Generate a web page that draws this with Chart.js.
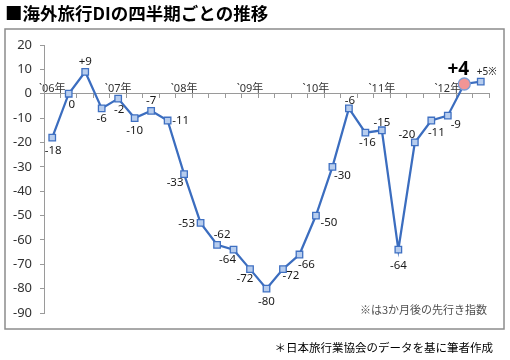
<!DOCTYPE html>
<html><head><meta charset="utf-8">
<script src="https://cdn.jsdelivr.net/npm/chart.js@4"></script>
<style>html,body{margin:0;padding:0;background:#fff;}canvas{display:block;}</style>
</head><body>
<canvas id="c" width="510" height="360"></canvas>
<script>
// ---- data ----
const quarterLabels = ['`06年','','','','`07年','','','','`08年','','','','`09年','','','','`10年','','','','`11年','','','','`12年','',''];
const diValues = [-18,0,9,-6,-2,-10,-7,-11,-33,-53,-62,-64,-72,-80,-72,-66,-50,-30,-6,-16,-15,-64,-20,-11,-9,4,5];
const yMin = -90, yMax = 20, yStep = 10;
const titleText = '■海外旅行DIの四半期ごとの推移';
const noteText = '※は3か月後の先行き指数';
const sourceText = '＊日本旅行業協会のデータを基に筆者作成';
const latestIndex = 25;    // highlighted latest actual value
const forecastIndex = 26;  // forecast value (marked ※)

// ---- label placement (style) ----
const labelOffsets = [[1,13],[3,11],[0,-10],[0,10],[1,11],[0,13],[0,-10],[13,0],[-9,9],[-14,1],[5,-10],[-6,10],[-5,10],[0,13],[8,7],[7,10],[13,7],[10,9],[1,-8],[2,10],[0,-8],[0,16],[-8,-8],[5,12],[8,9],[-6,-14],[6,-9]];

const NUM_FONT = '"Noto Sans","Noto Sans CJK JP",sans-serif';
const CJK_FONT = '"Noto Sans CJK JP","Noto Sans",sans-serif';
const LINE = '#3b6dbf';

const framePlugin = {
  id: 'frame',
  beforeDraw(chart) {
    const c = chart.ctx;
    c.save();
    c.strokeStyle = '#8c8c8c';
    c.lineWidth = 1.5;
    c.strokeRect(5, 29, 499, 300);
    c.restore();
  },
  afterDraw(chart) {
    const c = chart.ctx;
    c.save();
    c.textBaseline = 'middle';
    c.textAlign = 'right';
    c.fillStyle = '#505050';
    c.font = '11px ' + CJK_FONT;
    c.fillText(noteText, 487, 310);
    c.fillStyle = '#000';
    c.font = '11.5px ' + CJK_FONT;
    c.fillText(sourceText, 493, 348);
    c.restore();
  }
};

const labelPlugin = {
  id: 'pointLabels',
  afterDatasetsDraw(chart) {
    const c = chart.ctx;
    const meta = chart.getDatasetMeta(0);
    c.save();
    c.textAlign = 'center';
    c.textBaseline = 'middle';
    meta.data.forEach((pt, i) => {
      const v = diValues[i];
      let txt = (v > 0 ? '+' : '') + v;
      if (i === forecastIndex) txt += '※';
      const off = labelOffsets[i];
      if (i === latestIndex) { c.font = 'bold 19px ' + NUM_FONT; c.fillStyle = '#000'; }
      else if (i === forecastIndex) { c.font = '10px ' + NUM_FONT; c.fillStyle = '#222'; }
      else { c.font = '11.5px ' + NUM_FONT; c.fillStyle = '#1a1a1a'; }
      c.fillText(txt, pt.x + off[0], pt.y + off[1]);
    });
    c.restore();
  }
};

new Chart(document.getElementById('c'), {
  type: 'line',
  data: {
    labels: quarterLabels,
    datasets: [{
      data: diValues,
      borderColor: LINE,
      borderWidth: 2.25,
      tension: 0,
      pointStyle: ctx => ctx.dataIndex === latestIndex ? 'circle' : 'rect',
      pointRadius: ctx => ctx.dataIndex === latestIndex ? 6 : 4.6,
      pointBackgroundColor: ctx => ctx.dataIndex === latestIndex ? '#f29595' : '#b7cdee',
      pointBorderColor: ctx => ctx.dataIndex === latestIndex ? '#7b9dd6' : '#3f70c2',
      pointBorderWidth: 1.3
    }]
  },
  options: {
    responsive: false,
    animation: false,
    devicePixelRatio: 1,
    layout: { padding: { left: 5, right: 21, top: 0, bottom: 47 } },
    plugins: {
      legend: { display: false },
      tooltip: { enabled: false },
      title: {
        display: true, text: titleText, align: 'start', color: '#000',
        font: { family: CJK_FONT, size: 17.5, weight: 'bold' },
        padding: { top: 3, bottom: 21 }
      }
    },
    scales: {
      x: {
        type: 'category',
        position: { y: 0 },
        offset: true,
        afterFit: s => { s.height = 0; },
        grid: { display: true, offset: true, drawOnChartArea: false, drawTicks: true, tickLength: 4, color: '#9a9a9a' },
        border: { display: true, color: '#9a9a9a', width: 1 },
        ticks: { autoSkip: false, maxRotation: 0, minRotation: 0, padding: -15, color: '#333', font: { family: NUM_FONT, size: 11 } }
      },
      y: {
        min: yMin, max: yMax,
        afterFit: s => { s.width = 39; },
        grid: { display: true, drawOnChartArea: false, drawTicks: true, tickLength: 4, color: '#9a9a9a' },
        border: { display: true, color: '#9a9a9a', width: 1 },
        ticks: { stepSize: yStep, padding: 8, color: '#333', font: { family: NUM_FONT, size: 13 } }
      }
    }
  },
  plugins: [framePlugin, labelPlugin]
});
</script>
</body></html>
